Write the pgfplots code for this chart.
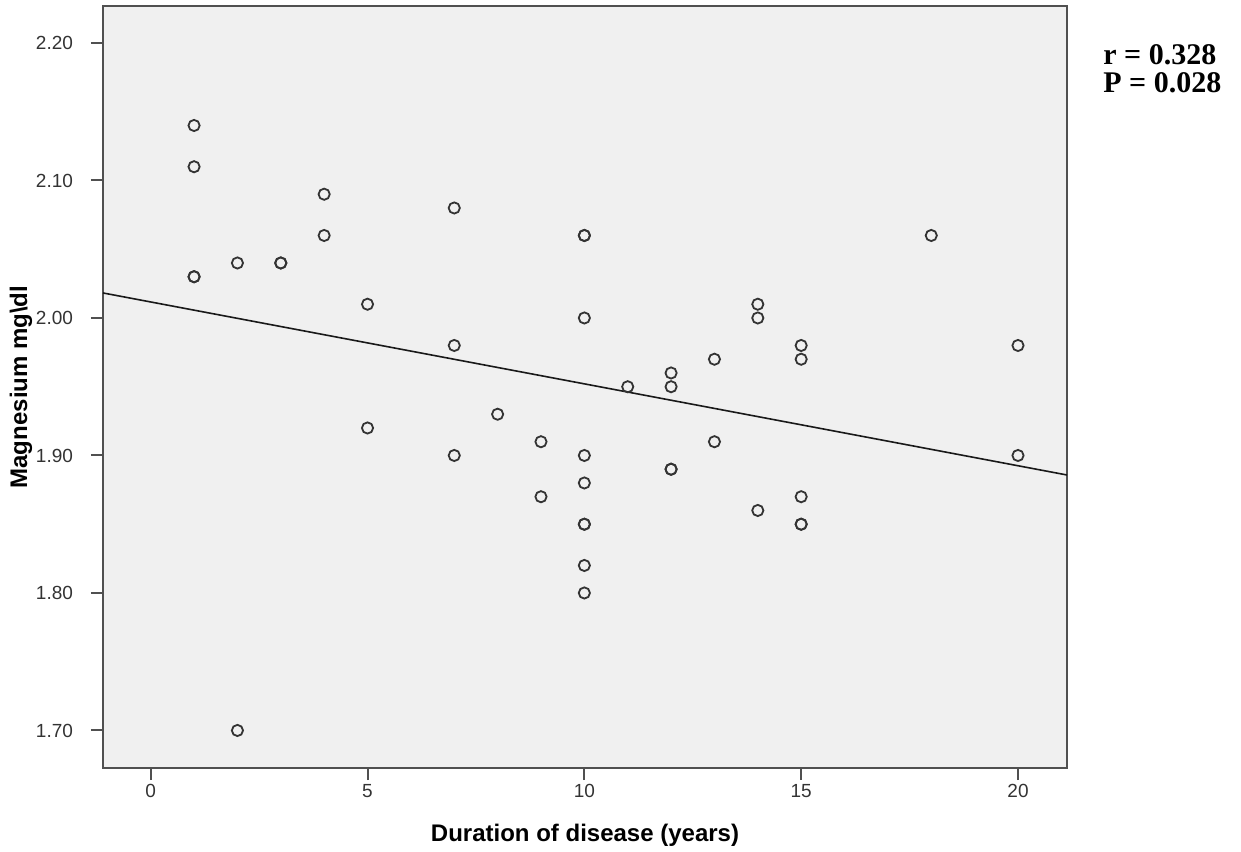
\documentclass[border=0pt]{standalone}
\usepackage{fontspec}
\setmainfont{Liberation Sans}
\newfontfamily\timesbf{Liberation Serif}
\usepackage{pgfplots}
\pgfplotsset{compat=1.18}
\definecolor{panel}{HTML}{F0F0F0}
\definecolor{frame}{HTML}{505050}

\begin{document}
\begin{tikzpicture}
  \useasboundingbox (0,0) rectangle (620.5pt,425.5pt);
  \begin{axis}[
      at={(51.5pt,41.5pt)}, anchor=south west,
      scale only axis,
      width=482pt, height=381pt,
      xmin=-1.10, xmax=21.13,
      ymin=1.6727, ymax=2.2269,
      xtick={0,5,10,15,20},
      ytick={1.7,1.8,1.9,2.0,2.1,2.2},
      xtick pos=left, ytick pos=left,
      axis line style={draw=frame, line width=1pt},
      tick style={draw=frame, line width=1pt},
      tick align=outside,
      major tick length=6pt,
      axis background/.style={fill=panel},
      /pgf/number format/assume math mode=true,
      yticklabel={\pgfmathprintnumber[fixed,fixed zerofill,precision=2]{\tick}},
      ticklabel style={font=\fontsize{9.5}{11}\selectfont, text=black!80},
      xticklabel style={anchor=center, yshift=-5.5pt},
      yticklabel style={anchor=east, xshift=-5.5pt},
      xlabel={Duration of disease (years)},
      ylabel={Magnesium mg\textbackslash dl},
      label style={font=\bfseries\fontsize{12}{14}\selectfont},
      xlabel style={at={(axis description cs:0.5,-0.0879)}, anchor=center},
      ylabel style={at={(axis description cs:-0.0851,0.5)}, anchor=center},
      clip=true,
    ]
    % regression line
    \addplot[black!90, line width=0.8pt] coordinates {(-1.10,2.0182) (21.13,1.8858)};
    % observations
    \addplot[only marks, mark=o, mark size=2.8pt,
             mark options={draw=black!80, line width=0.9pt}] table {
x   y
1   2.14
1   2.11
1   2.03
1   2.03
2   2.04
2   1.70
3   2.04
3   2.04
4   2.09
4   2.06
5   2.01
5   1.92
7   2.08
7   1.98
7   1.90
8   1.93
9   1.91
9   1.87
10  2.06
10  2.06
10  2.00
10  1.90
10  1.88
10  1.85
10  1.85
10  1.82
10  1.80
11  1.95
12  1.96
12  1.95
12  1.89
12  1.89
13  1.97
13  1.91
14  2.01
14  2.00
14  1.86
15  1.98
15  1.97
15  1.87
15  1.85
15  1.85
18  2.06
20  1.98
20  1.90
};
  \end{axis}
  \node[anchor=base west, inner sep=0pt, font=\timesbf\bfseries\fontsize{15}{15}\selectfont]
    at (551.5pt,393pt) {r = 0.328};
  \node[anchor=base west, inner sep=0pt, font=\timesbf\bfseries\fontsize{15}{15}\selectfont]
    at (551.5pt,379pt) {P = 0.028};
\end{tikzpicture}
\end{document}
